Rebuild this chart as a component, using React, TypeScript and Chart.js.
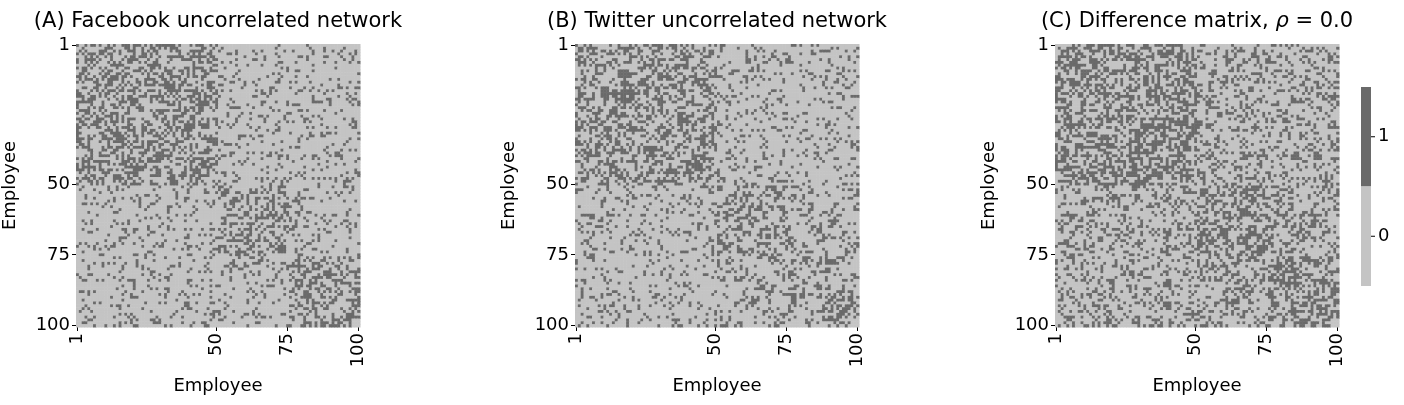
import { useEffect, useRef } from 'react';
import { Chart, registerables } from 'chart.js';
Chart.register(...registerables);

const N = 100;
const TICKS = [1, 50, 75, 100];
// community boundaries (employee index) and link densities per block
const BLOCKS = [0, 50, 75, 100];
const FB_DENSITY = [
  [0.45, 0.16, 0.16],
  [0.16, 0.36, 0.2],
  [0.16, 0.2, 0.36],
];
const TW_DENSITY = [
  [0.42, 0.18, 0.17],
  [0.18, 0.36, 0.2],
  [0.17, 0.2, 0.34],
];
const LIGHT = '#c4c4c4';
const DARK = '#6a6a6a';

function blockOf(i: number) {
  return i < BLOCKS[1] ? 0 : i < BLOCKS[2] ? 1 : 2;
}

// deterministic cell texture: the exact cells cannot be read, only block densities
function hash(i: number, j: number, seed: number) {
  let h = (i * 374761393 + j * 668265263 + seed * 2147483647) | 0;
  h = Math.imul(h ^ (h >>> 13), 1274126177);
  h ^= h >>> 16;
  return ((h >>> 0) % 10000) / 10000;
}

function buildMatrix(density: number[][], seed: number) {
  const m: number[][] = [];
  for (let i = 0; i < N; i++) {
    m.push([]);
    for (let j = 0; j < N; j++) {
      const a = Math.min(i, j), b = Math.max(i, j);
      m[i].push(hash(a, b, seed) < density[blockOf(i)][blockOf(j)] ? 1 : 0);
    }
  }
  return m;
}

const FB = buildMatrix(FB_DENSITY, 11);
const TW = buildMatrix(TW_DENSITY, 29);
const DIFF = FB.map((row, i) => row.map((v, j) => (v !== TW[i][j] ? 1 : 0)));

const FONT = 'DejaVu Sans';

interface PanelProps {
  left: number;
  width: number;
  matrix: number[][];
  title: string[];
  colorbar?: boolean;
}

function Panel({ left, width, matrix, title, colorbar }: PanelProps) {
  const ref = useRef<HTMLCanvasElement>(null);
  useEffect(() => {
    if (!ref.current) return;
    const cells = {
      id: 'cells',
      beforeDatasetsDraw(chart: any) {
        const { ctx, scales } = chart;
        const x = scales.x, y = scales.y;
        for (let i = 0; i < N; i++) {
          for (let j = 0; j < N; j++) {
            const x0 = x.getPixelForValue(j + 0.5), x1 = x.getPixelForValue(j + 1.5);
            const y0 = y.getPixelForValue(i + 0.5), y1 = y.getPixelForValue(i + 1.5);
            ctx.fillStyle = matrix[i][j] ? DARK : LIGHT;
            ctx.fillRect(x0, y0, x1 - x0 + 0.5, y1 - y0 + 0.5);
          }
        }
        const ca = chart.chartArea;
        const cx = (ca.left + ca.right) / 2;
        ctx.fillStyle = '#000';
        ctx.textBaseline = 'alphabetic';
        ctx.font = `21px ${FONT}`;
        const widths = title.map((t, k) => {
          ctx.font = k === 1 ? `italic 21px ${FONT}` : `21px ${FONT}`;
          return ctx.measureText(t).width;
        });
        let tx = cx - widths.reduce((s, w) => s + w, 0) / 2;
        title.forEach((t, k) => {
          ctx.font = k === 1 ? `italic 21px ${FONT}` : `21px ${FONT}`;
          ctx.textAlign = 'left';
          ctx.fillText(t, tx, 27);
          tx += widths[k];
        });
        if (colorbar) {
          const bx = ca.right + 22, top = 87, bot = 286, mid = (top + bot) / 2;
          ctx.fillStyle = DARK;
          ctx.fillRect(bx, top, 10, mid - top);
          ctx.fillStyle = LIGHT;
          ctx.fillRect(bx, mid, 10, bot - mid);
          ctx.strokeStyle = '#000';
          ctx.lineWidth = 1;
          ctx.fillStyle = '#000';
          ctx.font = `18px ${FONT}`;
          ctx.textAlign = 'left';
          ctx.textBaseline = 'middle';
          [[(top + mid) / 2, '1'], [(mid + bot) / 2, '0']].forEach(([py, s]) => {
            ctx.beginPath();
            ctx.moveTo(bx + 10, py as number);
            ctx.lineTo(bx + 14, py as number);
            ctx.stroke();
            ctx.fillText(s as string, bx + 17, py as number);
          });
        }
      },
    };
    const axisCommon = {
      type: 'linear' as const,
      min: 0.5,
      max: 100.5,
      grid: { drawOnChartArea: false, drawTicks: true, tickLength: 4, color: '#000' },
      border: { display: false },
      afterBuildTicks: (s: any) => { s.ticks = TICKS.map(v => ({ value: v })); },
      title: { display: true, text: 'Employee', color: '#000', font: { family: FONT, size: 18 } },
    };
    const chart = new Chart(ref.current, {
      type: 'scatter',
      data: { datasets: [{ data: [] }] },
      options: {
        animation: false,
        responsive: false,
        layout: { padding: { top: 44, left: 0, right: width - 360, bottom: 0 } },
        plugins: { legend: { display: false }, tooltip: { enabled: false } },
        scales: {
          x: {
            ...axisCommon,
            ticks: { color: '#000', font: { family: FONT, size: 18 }, minRotation: 90, maxRotation: 90, autoSkip: false, padding: 2, callback: (v: any) => String(v) },
            title: { ...axisCommon.title, padding: { top: 4, bottom: 8 } },
            afterFit: (s: any) => { s.height = 78; },
          },
          y: {
            ...axisCommon,
            reverse: true,
            ticks: { color: '#000', font: { family: FONT, size: 18 }, autoSkip: false, padding: 2, callback: (v: any) => String(v) },
            title: { ...axisCommon.title, padding: { top: 0, bottom: 6 } },
            afterFit: (s: any) => { s.width = 76; },
          },
        },
      },
      plugins: [cells],
    });
    return () => chart.destroy();
  }, []);
  return (
    <canvas ref={ref} width={width} height={405}
      style={{ position: 'absolute', left, top: 0, width, height: 405 }} />
  );
}

export default function App() {
  return (
    <div style={{ position: 'fixed', left: 0, top: 0, width: 1404, height: 405, background: '#fff' }}>
      <Panel left={0} width={470} matrix={FB} title={['(A) Facebook uncorrelated network']} />
      <Panel left={499} width={470} matrix={TW} title={['(B) Twitter uncorrelated network']} />
      <Panel left={979} width={425} matrix={DIFF} title={['(C) Difference matrix, ', 'ρ', ' = 0.0']} colorbar />
    </div>
  );
}
